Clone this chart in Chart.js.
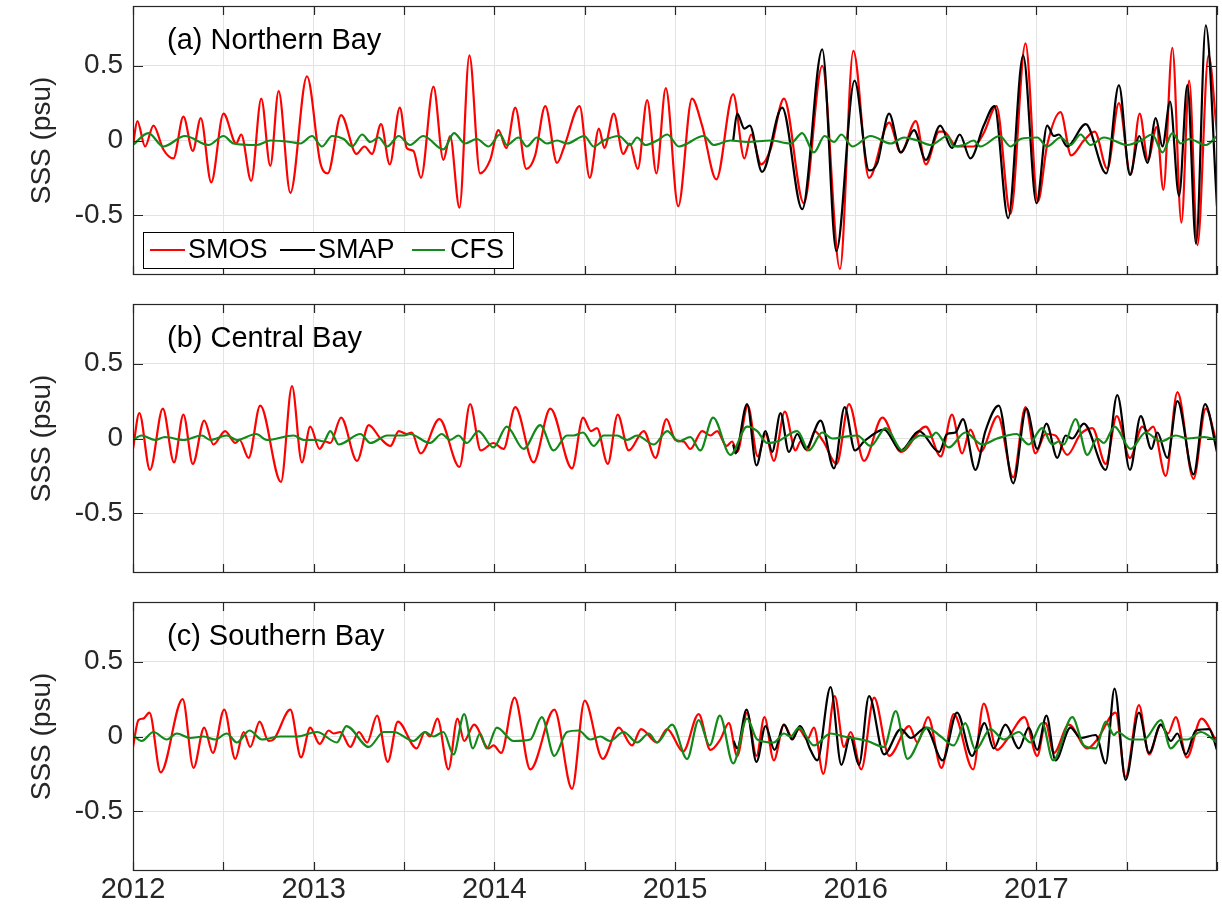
<!DOCTYPE html>
<html>
<head>
<meta charset="utf-8">
<script src="https://cdn.jsdelivr.net/npm/chart.js@4.4.1/dist/chart.umd.min.js"></script>
<style>
  html, body { margin: 0; padding: 0; background: #fff; }
  #wrap { position: relative; width: 1222px; height: 908px; }
  canvas { position: absolute; left: 0; }
</style>
</head>
<body>
<div id="wrap">
  <canvas id="panelA" width="1222" height="290" style="top:0px"></canvas>
  <canvas id="panelB" width="1222" height="300" style="top:290px"></canvas>
  <canvas id="panelC" width="1222" height="318" style="top:590px"></canvas>
</div>
<script>
// séries : [année décimale, SSS (psu)]
const seriesNames = ['SMOS', 'SMAP', 'CFS'];
const panelTitles = ['(a) Northern Bay', '(b) Central Bay', '(c) Southern Bay'];
const xGridYears = [2012, 2012.5, 2013, 2013.5, 2014, 2014.5, 2015, 2015.5, 2016, 2016.5, 2017, 2017.5, 2018];
const yTickValues = [-0.5, 0, 0.5];

// (a) Northern Bay
const smosNorth = [[2012.000,-0.03],[2012.024,0.13],[2012.067,-0.04],[2012.113,0.10],[2012.168,-0.06],[2012.224,-0.12],[2012.279,0.16],[2012.331,-0.07],[2012.375,0.15],[2012.433,-0.28],[2012.501,0.18],[2012.571,-0.02],[2012.599,0.04],[2012.654,-0.27],[2012.710,0.28],[2012.760,-0.17],[2012.806,0.33],[2012.871,-0.35],[2012.963,0.43],[2013.037,-0.15],[2013.078,-0.22],[2013.152,0.17],[2013.237,-0.09],[2013.281,-0.04],[2013.323,-0.09],[2013.373,0.11],[2013.421,-0.16],[2013.477,0.22],[2013.515,-0.05],[2013.552,-0.07],[2013.594,-0.25],[2013.663,0.36],[2013.718,-0.13],[2013.755,0.03],[2013.807,-0.45],[2013.862,0.57],[2013.921,-0.22],[2013.977,-0.13],[2014.023,0.07],[2014.066,-0.05],[2014.116,0.22],[2014.177,-0.19],[2014.226,-0.10],[2014.282,0.23],[2014.347,-0.15],[2014.387,-0.04],[2014.472,0.23],[2014.528,-0.25],[2014.579,0.08],[2014.609,-0.05],[2014.661,0.18],[2014.713,-0.09],[2014.750,-0.02],[2014.794,-0.19],[2014.846,0.27],[2014.897,-0.22],[2014.949,0.35],[2015.018,-0.44],[2015.094,0.28],[2015.150,0.10],[2015.229,-0.26],[2015.322,0.31],[2015.384,-0.12],[2015.421,0.04],[2015.477,-0.16],[2015.529,-0.06],[2015.603,0.28],[2015.713,-0.42],[2015.815,0.50],[2015.913,-0.86],[2015.987,0.60],[2016.074,-0.25],[2016.185,0.12],[2016.250,-0.08],[2016.333,0.13],[2016.388,-0.16],[2016.462,0.06],[2016.487,0.06],[2016.561,-0.04],[2016.653,-0.04],[2016.709,0.05],[2016.779,0.23],[2016.857,-0.49],[2016.940,0.65],[2017.008,-0.41],[2017.060,-0.03],[2017.134,0.19],[2017.193,-0.10],[2017.263,0.00],[2017.323,0.06],[2017.393,-0.19],[2017.457,0.25],[2017.522,-0.23],[2017.572,0.18],[2017.618,-0.13],[2017.666,0.09],[2017.703,-0.33],[2017.753,0.62],[2017.803,-0.55],[2017.846,0.40],[2017.892,-0.70],[2017.953,0.57],[2018.000,0.05]];
const smapNorth = [[2015.322,0.00],[2015.344,0.18],[2015.384,0.08],[2015.414,0.10],[2015.482,-0.21],[2015.593,0.22],[2015.704,-0.46],[2015.815,0.61],[2015.893,-0.74],[2015.994,0.40],[2016.074,-0.20],[2016.120,-0.15],[2016.185,0.18],[2016.250,-0.08],[2016.323,0.07],[2016.388,-0.13],[2016.468,0.10],[2016.533,-0.05],[2016.576,0.04],[2016.635,-0.12],[2016.709,0.10],[2016.768,0.23],[2016.844,-0.52],[2016.927,0.57],[2017.001,-0.42],[2017.060,0.10],[2017.097,0.03],[2017.125,0.04],[2017.171,-0.04],[2017.273,0.11],[2017.387,-0.22],[2017.457,0.37],[2017.518,-0.23],[2017.570,0.03],[2017.615,-0.15],[2017.661,0.15],[2017.698,-0.04],[2017.740,0.26],[2017.790,-0.37],[2017.836,0.37],[2017.884,-0.69],[2017.938,0.77],[2018.000,-0.44]];
const cfsNorth = [[2012.000,-0.03],[2012.085,0.05],[2012.168,-0.04],[2012.288,0.03],[2012.418,-0.03],[2012.501,0.03],[2012.556,-0.02],[2012.686,-0.03],[2012.760,0.00],[2012.871,-0.01],[2012.926,-0.02],[2012.991,0.03],[2013.046,-0.04],[2013.102,0.03],[2013.166,0.01],[2013.213,-0.04],[2013.268,0.04],[2013.314,-0.01],[2013.360,0.02],[2013.407,-0.04],[2013.471,0.03],[2013.533,-0.03],[2013.607,0.03],[2013.718,-0.06],[2013.777,0.05],[2013.838,-0.02],[2013.903,0.01],[2013.968,-0.04],[2014.032,0.04],[2014.069,-0.03],[2014.134,0.02],[2014.180,-0.04],[2014.236,0.02],[2014.291,-0.02],[2014.347,0.00],[2014.402,-0.02],[2014.498,0.03],[2014.550,-0.04],[2014.605,0.00],[2014.689,0.03],[2014.753,-0.03],[2014.790,0.02],[2014.836,-0.03],[2014.901,0.00],[2014.957,0.04],[2015.021,-0.04],[2015.159,0.03],[2015.214,-0.03],[2015.307,0.00],[2015.399,-0.01],[2015.529,0.00],[2015.640,-0.02],[2015.704,0.05],[2015.769,-0.08],[2015.828,0.03],[2015.880,-0.01],[2015.921,0.04],[2015.982,-0.04],[2016.083,0.03],[2016.194,-0.02],[2016.268,0.02],[2016.342,0.00],[2016.416,-0.03],[2016.508,0.03],[2016.543,-0.04],[2016.598,-0.03],[2016.653,0.00],[2016.690,-0.04],[2016.798,0.03],[2016.857,-0.04],[2016.912,0.01],[2017.005,0.02],[2017.060,-0.04],[2017.134,0.02],[2017.189,-0.03],[2017.245,0.04],[2017.300,-0.03],[2017.374,0.02],[2017.504,-0.03],[2017.578,0.00],[2017.642,0.04],[2017.698,-0.08],[2017.753,0.05],[2017.799,-0.02],[2017.846,0.01],[2017.938,-0.03],[2018.000,0.03]];

// (b) Central Bay
const smosCentral = [[2012.000,-0.07],[2012.035,0.17],[2012.094,-0.21],[2012.165,0.20],[2012.227,-0.16],[2012.279,0.16],[2012.331,-0.17],[2012.394,0.12],[2012.445,-0.04],[2012.510,0.05],[2012.566,-0.03],[2012.590,-0.01],[2012.640,-0.13],[2012.704,0.22],[2012.819,-0.29],[2012.880,0.35],[2012.935,-0.16],[2012.981,0.08],[2013.033,-0.07],[2013.065,-0.02],[2013.092,-0.03],[2013.152,0.14],[2013.240,-0.15],[2013.305,0.09],[2013.370,0.00],[2013.425,-0.05],[2013.471,0.05],[2013.515,0.03],[2013.543,0.04],[2013.592,-0.10],[2013.696,0.13],[2013.807,-0.19],[2013.866,0.23],[2013.925,-0.08],[2013.995,-0.03],[2014.051,-0.07],[2014.116,0.21],[2014.217,-0.16],[2014.310,0.20],[2014.430,-0.20],[2014.491,0.14],[2014.535,0.05],[2014.568,0.07],[2014.628,-0.17],[2014.683,0.16],[2014.744,-0.08],[2014.827,0.05],[2014.892,-0.13],[2014.953,0.13],[2015.002,-0.01],[2015.048,-0.02],[2015.085,-0.07],[2015.150,0.05],[2015.196,0.02],[2015.233,0.05],[2015.285,-0.05],[2015.316,-0.02],[2015.344,-0.09],[2015.403,0.22],[2015.458,-0.12],[2015.501,0.03],[2015.547,-0.15],[2015.608,0.18],[2015.667,-0.08],[2015.695,-0.02],[2015.732,-0.08],[2015.773,0.05],[2015.821,-0.02],[2015.895,-0.17],[2015.963,0.23],[2016.046,-0.15],[2016.148,0.14],[2016.250,-0.09],[2016.388,0.08],[2016.471,-0.12],[2016.533,0.16],[2016.589,-0.10],[2016.635,0.06],[2016.690,-0.09],[2016.787,0.15],[2016.872,-0.26],[2016.940,0.21],[2016.995,-0.10],[2017.051,0.03],[2017.106,0.02],[2017.171,-0.11],[2017.245,0.03],[2017.310,0.07],[2017.384,-0.17],[2017.445,0.15],[2017.518,-0.13],[2017.587,0.08],[2017.615,0.05],[2017.646,0.08],[2017.716,-0.25],[2017.781,0.31],[2017.870,-0.27],[2017.938,0.20],[2018.000,-0.04]];
const smapCentral = [[2015.322,-0.04],[2015.335,-0.10],[2015.399,0.23],[2015.451,-0.18],[2015.501,0.05],[2015.538,-0.09],[2015.584,0.17],[2015.630,-0.09],[2015.677,0.03],[2015.723,-0.07],[2015.806,0.12],[2015.880,-0.20],[2015.939,0.21],[2015.996,-0.08],[2016.046,-0.02],[2016.157,0.06],[2016.250,-0.08],[2016.351,0.05],[2016.462,-0.09],[2016.506,0.03],[2016.552,0.04],[2016.594,0.13],[2016.663,-0.21],[2016.718,0.05],[2016.792,0.22],[2016.872,-0.30],[2016.945,0.20],[2017.005,-0.07],[2017.056,0.10],[2017.116,-0.13],[2017.162,0.02],[2017.199,0.00],[2017.263,0.10],[2017.384,-0.21],[2017.448,0.29],[2017.518,-0.21],[2017.578,0.15],[2017.637,-0.07],[2017.670,0.04],[2017.725,-0.13],[2017.781,0.25],[2017.870,-0.24],[2017.934,0.23],[2018.000,-0.09]];
const cfsCentral = [[2012.000,-0.01],[2012.048,0.02],[2012.122,-0.01],[2012.177,0.01],[2012.279,-0.01],[2012.381,0.02],[2012.427,-0.01],[2012.519,0.02],[2012.575,-0.01],[2012.682,0.03],[2012.741,-0.01],[2012.889,0.02],[2012.945,-0.01],[2013.018,-0.01],[2013.055,-0.02],[2013.092,0.05],[2013.139,-0.04],[2013.259,0.03],[2013.314,-0.03],[2013.407,0.02],[2013.499,0.02],[2013.533,0.03],[2013.644,-0.03],[2013.709,0.03],[2013.755,-0.01],[2013.801,0.02],[2013.848,-0.03],[2013.912,0.05],[2013.995,-0.06],[2014.069,0.08],[2014.162,-0.07],[2014.254,0.09],[2014.328,-0.08],[2014.402,0.02],[2014.439,0.02],[2014.491,0.04],[2014.550,-0.05],[2014.605,0.02],[2014.679,0.02],[2014.735,-0.01],[2014.790,0.02],[2014.883,-0.04],[2014.957,0.05],[2015.020,-0.02],[2015.085,0.01],[2015.140,-0.08],[2015.211,0.14],[2015.307,-0.11],[2015.399,0.08],[2015.455,0.05],[2015.510,-0.03],[2015.566,-0.02],[2015.677,0.05],[2015.741,-0.08],[2015.815,0.04],[2015.871,0.00],[2015.935,0.01],[2016.009,0.02],[2016.083,-0.05],[2016.166,0.07],[2016.259,-0.08],[2016.305,-0.02],[2016.360,0.02],[2016.416,0.01],[2016.444,0.04],[2016.515,-0.06],[2016.607,0.04],[2016.700,-0.04],[2016.783,0.00],[2016.890,0.03],[2016.958,-0.04],[2017.032,0.07],[2017.088,-0.04],[2017.125,-0.02],[2017.152,-0.04],[2017.217,0.13],[2017.282,-0.11],[2017.337,0.00],[2017.374,-0.03],[2017.433,0.08],[2017.522,-0.07],[2017.605,0.04],[2017.689,-0.02],[2017.772,0.02],[2017.836,0.00],[2017.929,0.01],[2018.000,-0.01]];

// (c) Southern Bay
const smosSouth = [[2012.000,-0.07],[2012.030,0.11],[2012.057,0.12],[2012.091,0.16],[2012.153,-0.24],[2012.275,0.25],[2012.335,-0.21],[2012.394,0.06],[2012.442,-0.11],[2012.505,0.18],[2012.566,-0.15],[2012.612,0.03],[2012.649,-0.07],[2012.701,0.10],[2012.750,-0.03],[2012.778,-0.02],[2012.871,0.18],[2012.930,-0.14],[2012.981,0.06],[2013.033,-0.05],[2013.083,0.04],[2013.111,0.02],[2013.148,0.03],[2013.203,-0.07],[2013.250,0.03],[2013.296,-0.04],[2013.351,0.14],[2013.410,-0.17],[2013.466,0.10],[2013.570,-0.08],[2013.616,0.03],[2013.644,0.00],[2013.685,0.12],[2013.746,-0.22],[2013.796,0.12],[2013.833,-0.03],[2013.888,0.08],[2013.968,-0.08],[2013.995,-0.06],[2014.038,-0.11],[2014.112,0.26],[2014.199,-0.22],[2014.332,0.18],[2014.430,-0.35],[2014.500,0.24],[2014.600,-0.15],[2014.689,0.06],[2014.762,-0.06],[2014.812,0.05],[2014.901,-0.04],[2014.957,0.05],[2015.045,-0.10],[2015.131,0.15],[2015.196,-0.09],[2015.251,-0.02],[2015.298,0.09],[2015.344,-0.13],[2015.399,0.16],[2015.451,-0.13],[2015.495,0.13],[2015.547,-0.16],[2015.603,0.08],[2015.649,-0.01],[2015.686,0.05],[2015.732,-0.02],[2015.769,0.06],[2015.821,-0.25],[2015.884,0.27],[2015.935,-0.07],[2015.972,0.03],[2016.031,-0.22],[2016.102,0.26],[2016.185,-0.13],[2016.296,0.07],[2016.342,-0.04],[2016.401,0.13],[2016.475,-0.21],[2016.543,0.15],[2016.650,-0.22],[2016.709,0.22],[2016.783,-0.09],[2016.838,-0.02],[2016.934,0.13],[2017.005,-0.13],[2017.051,0.09],[2017.097,-0.11],[2017.180,0.08],[2017.282,-0.08],[2017.337,-0.02],[2017.439,0.16],[2017.494,-0.27],[2017.568,0.21],[2017.624,-0.12],[2017.689,0.08],[2017.729,0.02],[2017.772,0.13],[2017.833,-0.14],[2017.914,0.12],[2018.000,-0.04]];
const smapSouth = [[2015.325,-0.03],[2015.344,-0.08],[2015.396,0.18],[2015.451,-0.17],[2015.501,0.07],[2015.551,-0.09],[2015.603,0.08],[2015.649,-0.02],[2015.691,0.07],[2015.750,-0.09],[2015.787,-0.16],[2015.861,0.33],[2015.921,-0.19],[2015.970,0.00],[2016.018,-0.19],[2016.074,0.27],[2016.157,-0.12],[2016.250,0.05],[2016.305,-0.01],[2016.388,0.06],[2016.481,-0.16],[2016.561,0.16],[2016.644,-0.13],[2016.713,0.09],[2016.764,-0.08],[2016.829,0.08],[2016.903,-0.08],[2016.958,0.06],[2017.005,-0.09],[2017.056,0.14],[2017.106,-0.16],[2017.189,0.06],[2017.245,-0.01],[2017.328,0.01],[2017.384,-0.18],[2017.433,0.32],[2017.494,-0.29],[2017.568,0.16],[2017.624,-0.11],[2017.689,0.08],[2017.744,-0.03],[2017.781,0.02],[2017.827,-0.12],[2017.883,0.04],[2017.957,0.05],[2018.000,-0.09]];
const cfsSouth = [[2012.000,0.01],[2012.048,-0.03],[2012.113,0.03],[2012.187,-0.02],[2012.242,0.02],[2012.316,-0.01],[2012.390,0.00],[2012.455,-0.02],[2012.519,0.02],[2012.575,-0.04],[2012.645,0.04],[2012.713,-0.02],[2012.815,0.00],[2012.908,0.00],[2013.018,0.03],[2013.129,-0.04],[2013.181,0.07],[2013.305,-0.07],[2013.388,0.03],[2013.444,0.03],[2013.527,-0.02],[2013.552,-0.03],[2013.616,0.03],[2013.663,0.00],[2013.718,0.03],[2013.774,-0.12],[2013.833,0.15],[2013.881,-0.08],[2013.921,0.02],[2013.958,-0.08],[2014.014,0.06],[2014.106,-0.03],[2014.199,-0.02],[2014.263,0.13],[2014.332,-0.13],[2014.402,0.03],[2014.467,0.04],[2014.531,-0.02],[2014.587,0.00],[2014.639,-0.03],[2014.716,0.03],[2014.790,-0.04],[2014.855,0.02],[2014.901,-0.04],[2014.984,0.08],[2015.067,-0.15],[2015.131,0.11],[2015.192,-0.06],[2015.248,0.14],[2015.322,-0.18],[2015.399,0.12],[2015.455,-0.02],[2015.547,-0.04],[2015.603,0.02],[2015.640,0.00],[2015.686,0.06],[2015.769,-0.06],[2015.861,0.02],[2015.935,0.00],[2016.065,-0.03],[2016.157,-0.07],[2016.222,0.17],[2016.287,-0.15],[2016.397,0.06],[2016.471,0.00],[2016.543,-0.06],[2016.607,0.09],[2016.663,-0.09],[2016.746,0.05],[2016.820,-0.02],[2016.903,0.03],[2016.968,-0.04],[2017.032,0.09],[2017.093,-0.16],[2017.199,0.13],[2017.263,-0.06],[2017.328,-0.08],[2017.384,0.10],[2017.430,0.01],[2017.448,0.03],[2017.522,-0.02],[2017.596,-0.02],[2017.689,0.11],[2017.744,-0.08],[2017.799,-0.02],[2017.836,-0.02],[2017.910,0.03],[2018.000,-0.04]];

const lineColors = ['#ff0000', '#000000', '#13891a'];
const axisColor = '#262626';
const gridColor = '#e3e3e3';
const fontFamily = '"Liberation Sans", Arial, Helvetica, sans-serif';

function toPoints(arr) {
    return arr.map(p => ({ x: p[0], y: p[1] }));
}

// Cadre, graduations intérieures, titre du panneau et légende
const framePlugin = {
    id: 'frame',
    afterDatasetsDraw(chart, args, opts) {
        const { ctx, chartArea: a, scales } = chart;
        ctx.save();
        ctx.strokeStyle = axisColor;
        ctx.lineWidth = 1.2;
        ctx.beginPath();
        xGridYears.forEach(v => {
            const px = Math.round(scales.x.getPixelForValue(v)) + 0.5;
            ctx.moveTo(px, a.top); ctx.lineTo(px, a.top + 9);
            ctx.moveTo(px, a.bottom); ctx.lineTo(px, a.bottom - 9);
        });
        yTickValues.forEach(v => {
            const py = Math.round(scales.y.getPixelForValue(v)) + 0.5;
            ctx.moveTo(a.left, py); ctx.lineTo(a.left + 10, py);
            ctx.moveTo(a.right, py); ctx.lineTo(a.right - 10, py);
        });
        ctx.stroke();
        ctx.strokeRect(a.left + 0.5, a.top + 0.5, a.right - a.left - 1, a.bottom - a.top - 1);

        ctx.fillStyle = '#000';
        ctx.font = '29px ' + fontFamily;
        ctx.textBaseline = 'middle';
        ctx.textAlign = 'left';
        ctx.fillText(opts.title, a.left + 34, a.top + 35);

        if (opts.legend) {
            const bx = a.left + 10, by = a.bottom - 43;
            ctx.fillStyle = '#fff';
            ctx.fillRect(bx, by, 370, 36);
            ctx.strokeStyle = '#000';
            ctx.lineWidth = 1;
            ctx.strokeRect(bx + 0.5, by + 0.5, 370, 36);
            const segs = [[17, 52, 55], [147, 182, 185], [279, 312, 317]];
            ctx.font = '27px ' + fontFamily;
            seriesNames.forEach((name, i) => {
                const yMid = by + 18;
                ctx.strokeStyle = lineColors[i];
                ctx.lineWidth = 2;
                ctx.beginPath();
                ctx.moveTo(a.left + segs[i][0], yMid);
                ctx.lineTo(a.left + segs[i][1], yMid);
                ctx.stroke();
                ctx.fillStyle = '#000';
                ctx.fillText(name, a.left + segs[i][2], yMid + 1);
            });
        }
        ctx.restore();
    }
};

function makePanel(canvasId, title, smos, smap, cfs, padTop, padBottom, showX, legend) {
    const data = [smos, smap, cfs];
    return new Chart(document.getElementById(canvasId), {
        type: 'line',
        data: {
            datasets: seriesNames.map((name, i) => ({
                label: name,
                data: toPoints(data[i]),
                borderColor: lineColors[i],
                borderWidth: 2.2,
                pointRadius: 0,
                cubicInterpolationMode: 'monotone',
                order: 3 - i
            }))
        },
        options: {
            responsive: false,
            animation: false,
            layout: { padding: { left: 0, right: 5, top: padTop, bottom: padBottom } },
            plugins: {
                legend: { display: false },
                tooltip: { enabled: false },
                frame: { title: title, legend: legend }
            },
            scales: {
                x: {
                    type: 'linear',
                    min: 2012,
                    max: 2018,
                    afterBuildTicks: s => { s.ticks = xGridYears.map(v => ({ value: v })); },
                    afterFit: s => {
                        s.height = showX ? 37 : 0;
                        s.paddingLeft = 0; s.paddingRight = 0;
                    },
                    grid: { color: gridColor, drawTicks: false },
                    border: { display: false },
                    ticks: {
                        display: showX,
                        autoSkip: false,
                        maxRotation: 0,
                        padding: 2,
                        color: axisColor,
                        font: { family: fontFamily, size: 29 },
                        callback: v => (Number.isInteger(v) && v < 2018) ? String(v) : ''
                    }
                },
                y: {
                    min: -0.9,
                    max: 0.9,
                    afterBuildTicks: s => { s.ticks = yTickValues.map(v => ({ value: v })); },
                    afterFit: s => {
                        s.width = 133;
                        s.paddingTop = 0; s.paddingBottom = 0;
                    },
                    grid: { color: gridColor, drawTicks: false },
                    border: { display: false },
                    ticks: {
                        padding: 10,
                        color: axisColor,
                        font: { family: fontFamily, size: 28 },
                        callback: v => String(v)
                    },
                    title: {
                        display: true,
                        text: 'SSS (psu)',
                        color: axisColor,
                        font: { family: fontFamily, size: 28 },
                        padding: { top: 25, bottom: 0 }
                    }
                }
            }
        },
        plugins: [framePlugin]
    });
}

makePanel('panelA', panelTitles[0], smosNorth, smapNorth, cfsNorth, 6, 15, false, true);
makePanel('panelB', panelTitles[1], smosCentral, smapCentral, cfsCentral, 14, 17, false, false);
makePanel('panelC', panelTitles[2], smosSouth, smapSouth, cfsSouth, 12, 0, true, false);
</script>
</body>
</html>
